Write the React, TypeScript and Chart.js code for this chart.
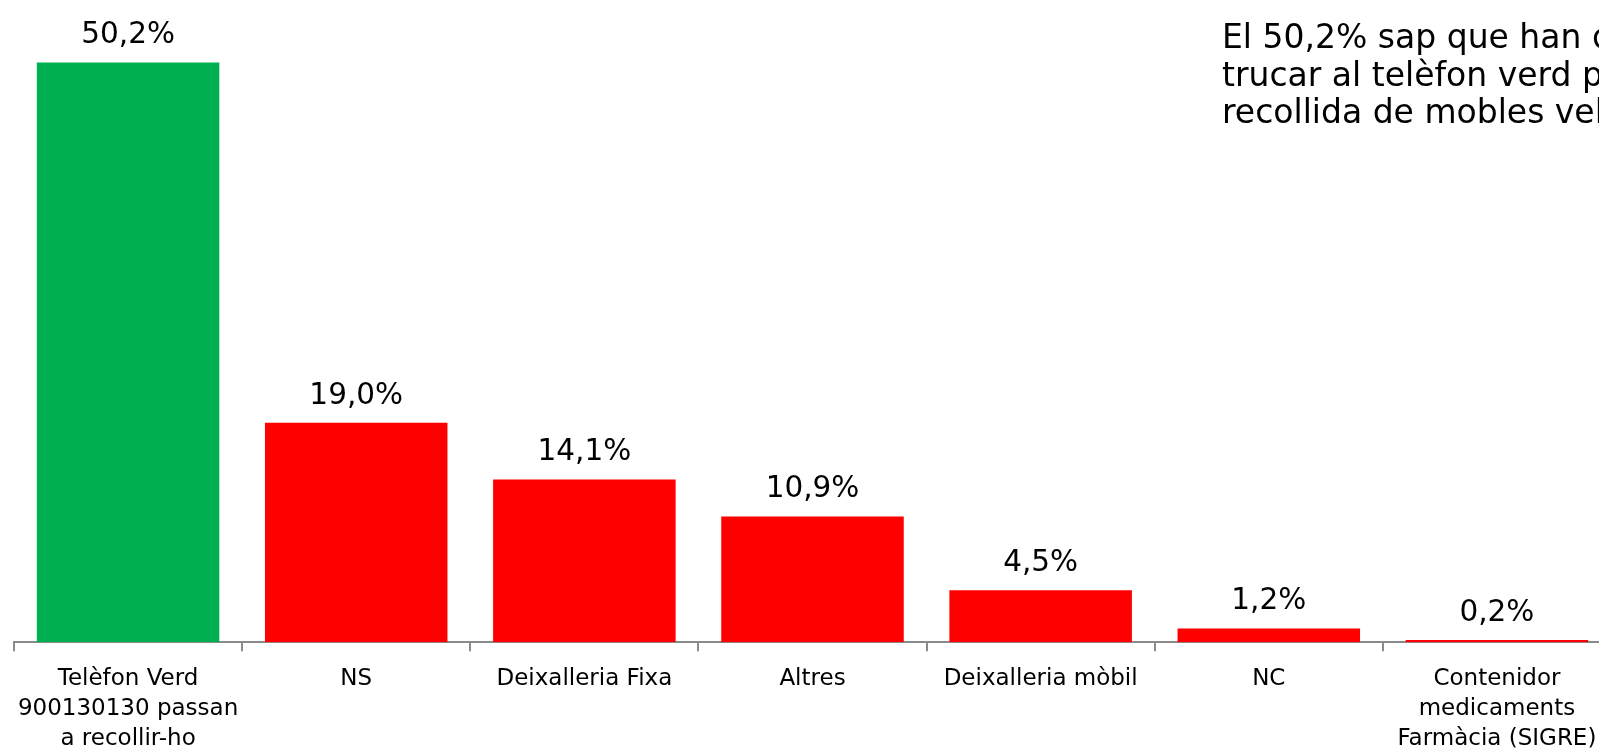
import React, { useEffect, useRef } from "react";
import { Chart, registerables } from "chart.js";

Chart.register(...registerables);

const categories: (string | string[])[] = [
  ["Telèfon Verd", "900130130 passan", "a recollir-ho"],
  "NS",
  "Deixalleria Fixa",
  "Altres",
  "Deixalleria mòbil",
  "NC",
  ["Contenidor", "medicaments", "Farmàcia (SIGRE)"],
];
const values: number[] = [50.2, 19.0, 14.1, 10.9, 4.5, 1.2, 0.2];
const barColors: string[] = ["#00B050", "#FF0000", "#FF0000", "#FF0000", "#FF0000", "#FF0000", "#FF0000"];
const annotationLines: string[] = [
  "El 50,2% sap que han de",
  "trucar al telèfon verd per a la",
  "recollida de mobles vells",
];

const FONT = "'DejaVu Sans', Verdana, sans-serif";

const valueLabels = {
  id: "valueLabels",
  afterDatasetsDraw(chart: any) {
    const ctx = chart.ctx;
    const meta = chart.getDatasetMeta(0);
    ctx.save();
    ctx.font = `29.5px ${FONT}`;
    ctx.fillStyle = "#000";
    ctx.textAlign = "center";
    ctx.textBaseline = "alphabetic";
    meta.data.forEach((bar: any, i: number) => {
      const txt = values[i].toFixed(1).replace(".", ",") + "%";
      ctx.fillText(txt, bar.x, bar.y - 19);
    });
    ctx.restore();
  },
};

export default function App() {
  const ref = useRef<HTMLCanvasElement>(null);
  useEffect(() => {
    if (!ref.current) return;
    const chart = new Chart(ref.current, {
      type: "bar",
      data: {
        labels: categories,
        datasets: [
          {
            data: values,
            backgroundColor: barColors,
            borderWidth: 0,
            barPercentage: 0.8,
            categoryPercentage: 1,
          },
        ],
      },
      options: {
        animation: false,
        responsive: true,
        maintainAspectRatio: false,
        layout: { padding: { left: 14, right: 14, top: 7, bottom: 7 } },
        plugins: { legend: { display: false }, tooltip: { enabled: false } },
        scales: {
          y: { display: false, min: 0, max: 55 },
          x: {
            grid: {
              offset: true,
              drawOnChartArea: false,
              drawTicks: true,
              tickLength: 9,
              color: "#8a8a8a",
              lineWidth: 2,
            },
            border: { display: true, color: "#8a8a8a", width: 2 },
            ticks: {
              color: "#000",
              padding: 13,
              maxRotation: 0,
              autoSkip: false,
              font: { family: FONT, size: 23, lineHeight: 1.3 },
            },
          },
        },
      },
      plugins: [valueLabels],
    });
    return () => chart.destroy();
  }, []);

  return (
    <div
      style={{
        position: "fixed",
        left: 0,
        top: 0,
        width: 1599,
        height: 756,
        overflow: "hidden",
        background: "#fff",
      }}
    >
      <div style={{ position: "absolute", left: 0, top: 0, width: 1625, height: 774 }}>
        <canvas ref={ref} />
      </div>
      <div
        style={{
          position: "absolute",
          left: 1222,
          top: 18,
          fontFamily: FONT,
          fontSize: 33,
          lineHeight: "37.7px",
          whiteSpace: "pre",
          color: "#000",
        }}
      >
        {annotationLines.join("\n")}
      </div>
    </div>
  );
}
